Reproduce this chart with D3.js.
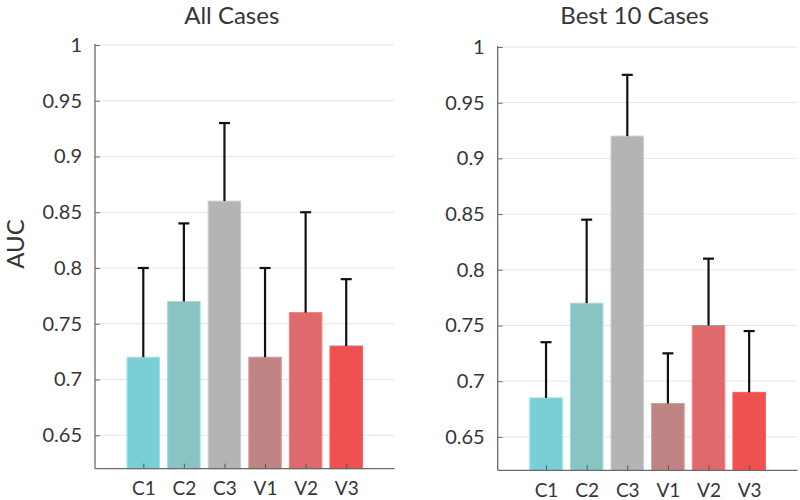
<!DOCTYPE html>
<html>
<head>
<meta charset="utf-8">
<script src="https://cdn.jsdelivr.net/npm/d3@7"></script>
<style>
  html, body { margin: 0; padding: 0; background: #fff; }
  svg { display: block; }
  text { font-family: Lato, "Open Sans", sans-serif; fill: #353535; }
</style>
</head>
<body>
<svg id="chart" width="800" height="500"></svg>
<script>
const categories = ["C1", "C2", "C3", "V1", "V2", "V3"];
const colors = ["#79CFD5", "#89C4C4", "#B3B4B6", "#C18485", "#E06A6B", "#EF5050"];
const allValues = [0.72, 0.77, 0.86, 0.72, 0.76, 0.73];
const allUpper = [0.80, 0.84, 0.93, 0.80, 0.85, 0.79];
const bestValues = [0.685, 0.77, 0.92, 0.68, 0.75, 0.69];
const bestUpper = [0.735, 0.845, 0.975, 0.725, 0.81, 0.745];
const yTicks = [0.65, 0.7, 0.75, 0.8, 0.85, 0.9, 0.95, 1];
const yTickLabels = ["0.65", "0.7", "0.75", "0.8", "0.85", "0.9", "0.95", "1"];
const titles = ["All Cases", "Best 10 Cases"];
const yLabel = "AUC";

const svg = d3.select("#chart");

const panels = [
  { title: titles[0], values: allValues, upper: allUpper, x0: 95, x1: 394.5, top: 45, bottom: 468.7 },
  { title: titles[1], values: bestValues, upper: bestUpper, x0: 497.7, x1: 797.5, top: 47, bottom: 470.3 }
];

panels.forEach((p, pi) => {
  const g = svg.append("g");
  const x = d3.scaleLinear().domain([-0.19, 7.19]).range([p.x0, p.x1]);
  const y = d3.scaleLinear().domain([0.62, 1]).range([p.bottom, p.top]);

  // gridlines
  g.append("g").selectAll("line").data(yTicks).join("line")
    .attr("x1", p.x0).attr("x2", p.x1)
    .attr("y1", d => y(d)).attr("y2", d => y(d))
    .attr("stroke", "#e6e6e6").attr("stroke-width", 1);

  // bars
  const bw = (x(1) - x(0)) * 0.8;
  g.append("g").selectAll("rect").data(p.values).join("rect")
    .attr("x", (d, i) => x(i + 1) - bw / 2)
    .attr("width", bw)
    .attr("y", d => y(d))
    .attr("height", d => y(0.62) - y(d))
    .attr("fill", (d, i) => colors[i])
    .attr("stroke", (d, i) => d3.color(colors[i]).brighter(0.35))
    .attr("stroke-width", 1);

  // error bars
  const eb = g.append("g");
  p.values.forEach((v, i) => {
    const cx = x(i + 1);
    eb.append("line").attr("x1", cx).attr("x2", cx)
      .attr("y1", y(v)).attr("y2", y(p.upper[i]))
      .attr("stroke", "#111").attr("stroke-width", 2.2);
    eb.append("line").attr("x1", cx - 5.5).attr("x2", cx + 5.5)
      .attr("y1", y(p.upper[i])).attr("y2", y(p.upper[i]))
      .attr("stroke", "#111").attr("stroke-width", 2.2);
  });

  // y axis
  const yAxis = d3.axisLeft(y).tickValues(yTicks)
    .tickFormat((d, i) => yTickLabels[i]).tickSize(-5).tickPadding(13);
  const ya = g.append("g").attr("transform", `translate(${p.x0},0)`).call(yAxis);
  ya.select(".domain").remove();
  ya.selectAll(".tick line").attr("stroke", "#6a6a6a").attr("stroke-width", 1);
  ya.selectAll(".tick text").attr("font-size", 20).attr("fill", "#353535")
    .style("font-family", "Lato, 'Open Sans', sans-serif");
  g.append("line").attr("x1", p.x0).attr("x2", p.x0)
    .attr("y1", y(1) - 1).attr("y2", p.bottom)
    .attr("stroke", "#6a6a6a").attr("stroke-width", 1.3);

  // x axis
  const xAxis = d3.axisBottom(x).tickValues(d3.range(1, 7))
    .tickFormat(d => categories[d - 1]).tickSize(-5).tickPadding(13);
  const xa = g.append("g").attr("transform", `translate(0,${p.bottom})`).call(xAxis);
  xa.select(".domain").remove();
  xa.selectAll(".tick line").attr("stroke", "#555").attr("stroke-width", 1);
  xa.selectAll(".tick text").attr("font-size", 19).attr("fill", "#353535")
    .style("font-family", "Lato, 'Open Sans', sans-serif");
  g.append("line").attr("x1", p.x0).attr("x2", p.x1)
    .attr("y1", p.bottom).attr("y2", p.bottom)
    .attr("stroke", "#6a6a6a").attr("stroke-width", 1.3);

  // title
  g.append("text")
    .attr("x", (p.x0 + p.x1) / 2 - 13)
    .attr("y", 23.5)
    .attr("text-anchor", "middle")
    .attr("font-size", 24)
    .text(p.title);
});

// y label
svg.append("text")
  .attr("transform", "translate(24,244) rotate(-90)")
  .attr("text-anchor", "middle")
  .attr("font-size", 24)
  .text(yLabel);
</script>
</body>
</html>
